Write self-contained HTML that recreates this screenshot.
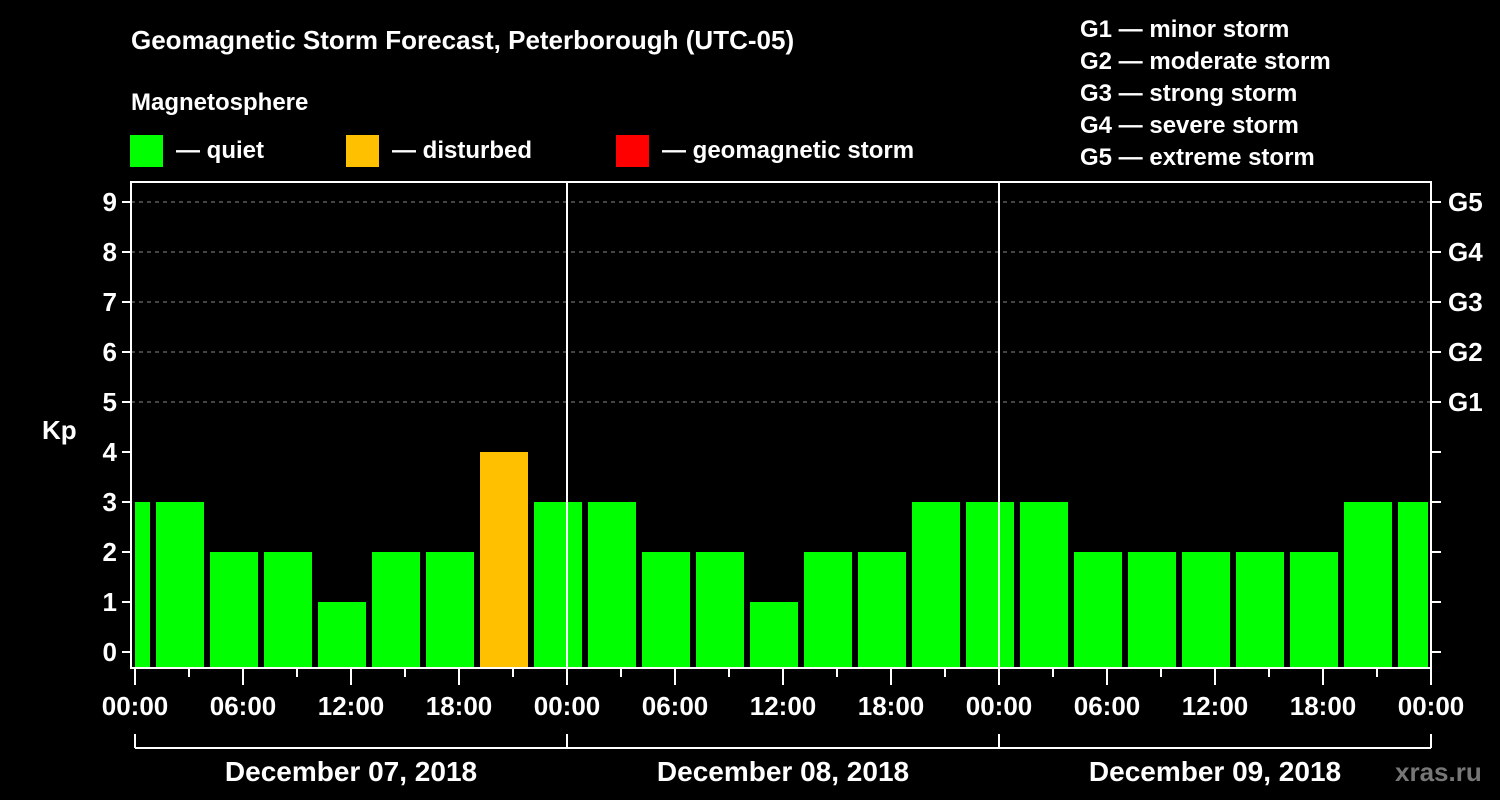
<!DOCTYPE html>
<html><head><meta charset="utf-8"><style>
html,body{margin:0;padding:0;background:#000;width:1500px;height:800px;overflow:hidden}
svg{display:block;font-family:"Liberation Sans",sans-serif;font-weight:bold}
</style></head><body>
<svg id="chart" width="1500" height="800" viewBox="0 0 1500 800">
<rect x="0" y="0" width="1500" height="800" fill="#000"/>
<text x="131" y="49" fill="#fff" font-size="26">Geomagnetic Storm Forecast, Peterborough (UTC-05)</text>
<text x="131" y="110" fill="#fff" font-size="24">Magnetosphere</text>
<g>
<rect x="130" y="135" width="33" height="32" fill="#00ff00"/>
<text x="176" y="158" fill="#fff" font-size="24">— quiet</text>
<rect x="346" y="135" width="33" height="32" fill="#ffc000"/>
<text x="392" y="158" fill="#fff" font-size="24">— disturbed</text>
<rect x="616" y="135" width="33" height="32" fill="#ff0000"/>
<text x="662" y="158" fill="#fff" font-size="24">— geomagnetic storm</text>
</g>
<g fill="#fff" font-size="24">
<text x="1080" y="37">G1 — minor storm</text>
<text x="1080" y="69">G2 — moderate storm</text>
<text x="1080" y="101">G3 — strong storm</text>
<text x="1080" y="133">G4 — severe storm</text>
<text x="1080" y="165">G5 — extreme storm</text>
</g>
<text x="42" y="439" fill="#fff" font-size="26">Kp</text>
<g id="grid"></g>
<g id="bars"></g>
<g id="axes"></g>
<text x="1395" y="781" fill="#777" font-size="26">xras.ru</text>
</svg>
<script>
const kpValues = [3,3,2,2,1,2,2,4,3,3,2,2,1,2,2,3,3,3,2,2,2,2,2,3,3];
const barStartHours = [-2,1,4,7,10,13,16,19,22,25,28,31,34,37,40,43,46,49,52,55,58,61,64,67,70];
const yTicks = [0,1,2,3,4,5,6,7,8,9];
const gLabels = ["G1","G2","G3","G4","G5"];
const gLevels = [5,6,7,8,9];
const xTickLabels = ["00:00","06:00","12:00","18:00","00:00","06:00","12:00","18:00","00:00","06:00","12:00","18:00","00:00"];
const dayLabels = ["December 07, 2018","December 08, 2018","December 09, 2018"];

const NS="http://www.w3.org/2000/svg";
const L=131,R=1431,T=182,B=668,X0=135,PXH=18;
const xs=h=>X0+h*PXH;
const ys=v=>652-50*v;
function mk(tag,attrs,parent,text){const e=document.createElementNS(NS,tag);for(const k in attrs)e.setAttribute(k,attrs[k]);if(text!==undefined)e.textContent=text;parent.appendChild(e);return e;}
const grid=document.getElementById('grid'),bars=document.getElementById('bars'),axes=document.getElementById('axes');

gLevels.forEach((v,i)=>{
  const l=mk('line',{x1:L,x2:R,y1:ys(v),y2:ys(v),stroke:'#888','stroke-width':1,'stroke-dasharray':'4,4'},grid);
  
  
  const t=mk('text',{x:1448,y:ys(v)+9,fill:'#fff','font-size':26},axes,gLabels[i]);
  
  
});

kpValues.forEach((v,i)=>{
  const h=barStartHours[i];
  let x0=Math.max(xs(h)+3,X0),x1=Math.min(xs(h+3)-3,1428);
  const color=v>=5?'#ff0000':(v>=4?'#ffc000':'#00ff00');
  const r=mk('rect',{x:x0,y:ys(v),width:x1-x0,height:B-ys(v),fill:color},bars);
  
  
});

// day separators
[24,48].forEach(h=>{
  const l=mk('line',{x1:xs(h),x2:xs(h),y1:T,y2:B,stroke:'#fff','stroke-width':2},axes);
  
  
});
const frame=mk('rect',{x:L,y:T,width:R-L,height:B-T,fill:'none',stroke:'#fff','stroke-width':2},axes);



yTicks.forEach(v=>{
  const y=ys(v);
  mk('line',{x1:122,x2:L,y1:y,y2:y,stroke:'#fff','stroke-width':2},axes);
  mk('line',{x1:R,x2:1441,y1:y,y2:y,stroke:'#fff','stroke-width':2},axes);
  const t=mk('text',{x:117,y:y+9,fill:'#fff','font-size':26,'text-anchor':'end'},axes,String(v));
  
  
});

for(let h=0;h<=72;h+=3){
  const major=h%6===0;
  mk('line',{x1:xs(h),x2:xs(h),y1:B,y2:major?685:677,stroke:'#fff','stroke-width':2},axes);
}
xTickLabels.forEach((s,i)=>{
  const t=mk('text',{x:xs(i*6),y:715,fill:'#fff','font-size':26,'text-anchor':'middle'},axes,s);
  
  
});
mk('line',{x1:xs(0),x2:xs(72),y1:748,y2:748,stroke:'#fff','stroke-width':2},axes);
[0,24,48,72].forEach(h=>mk('line',{x1:xs(h),x2:xs(h),y1:734,y2:748,stroke:'#fff','stroke-width':2},axes));
dayLabels.forEach((s,i)=>{
  const t=mk('text',{x:xs(i*24+12),y:781,fill:'#fff','font-size':28,'text-anchor':'middle'},axes,s);
  
  
});
</script>
</body></html>
